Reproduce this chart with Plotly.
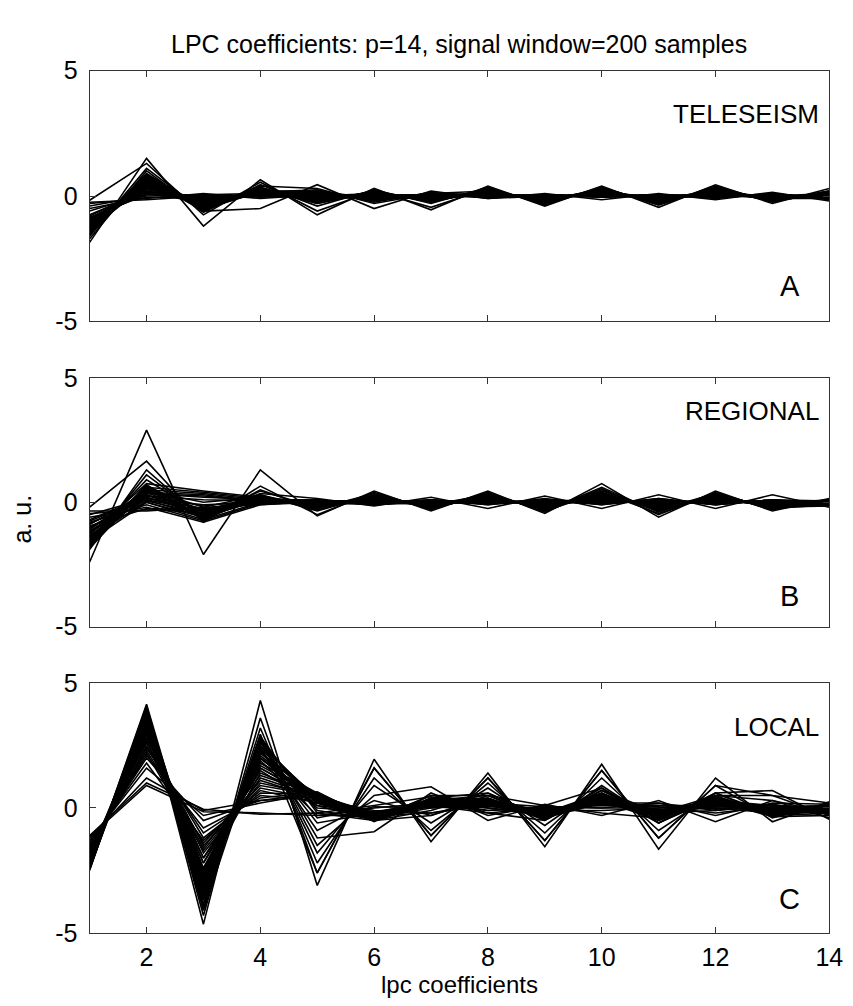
import plotly.graph_objects as go

coef = list(range(1, 15))

tele = [
    [-1.85, 1.5, -1.2, 0.65, -0.75, 0.3, -0.55, 0.4, -0.4, 0.4, -0.45, 0.45, -0.3, 0.3],
    [-0.17, 1.3, -0.75, 0.55, -0.6, 0.2, -0.45, 0.3, -0.3, 0.35, -0.35, 0.35, -0.2, 0.2],
    [-1.6, 1.1, -0.6, -0.5, 0.45, -0.5, 0.2, -0.1, 0.1, -0.15, 0.1, -0.15, 0.15, -0.2],
    [-1.5, 0.9, -0.5, 0.4, 0.3, -0.3, 0.1, 0.2, -0.2, 0.3, -0.3, 0.3, -0.15, 0.15],
    [-1.4, 0.85, -0.45, 0.3, -0.3, 0.15, -0.2, 0.25, -0.25, 0.25, -0.25, 0.25, -0.2, 0.1],
    [-1.3, 0.75, -0.4, 0.25, -0.2, 0.1, -0.15, 0.15, -0.15, 0.2, -0.2, 0.2, -0.1, 0.05],
    [-1.2, 0.7, -0.35, 0.2, -0.15, 0.05, -0.1, 0.1, -0.1, 0.15, -0.15, 0.15, -0.05, 0.0],
    [-1.1, 0.6, -0.3, 0.15, -0.1, 0.0, -0.05, 0.05, -0.05, 0.1, -0.1, 0.1, 0.0, -0.05],
    [-1.0, 0.5, -0.25, 0.1, 0.2, -0.2, 0.1, -0.05, 0.05, 0.0, 0.05, 0.0, 0.05, -0.1],
    [-0.9, 0.4, -0.2, 0.05, 0.15, -0.15, 0.05, 0.0, 0.0, 0.05, 0.0, 0.05, 0.0, 0.0],
    [-0.8, 0.3, -0.15, 0.0, 0.1, -0.1, 0.0, 0.05, -0.05, 0.1, -0.05, 0.1, -0.05, 0.05],
    [-0.75, 0.2, -0.1, 0.05, 0.0, 0.0, 0.05, 0.0, 0.05, -0.05, 0.05, -0.05, 0.05, -0.05],
    [-0.6, 0.1, 0.0, 0.0, 0.05, -0.05, 0.0, 0.0, 0.0, 0.0, 0.0, 0.0, 0.0, 0.0],
    [-0.4, 0.0, 0.05, -0.05, 0.0, 0.05, -0.05, 0.05, -0.05, 0.05, -0.05, 0.05, -0.05, 0.05],
    [-0.3, -0.1, 0.1, -0.1, 0.05, 0.0, 0.0, -0.05, 0.0, 0.0, 0.05, 0.0, 0.0, 0.1],
    [-0.25, -0.15, 0.0, 0.0, -0.05, 0.05, 0.05, 0.0, 0.05, -0.05, 0.0, -0.05, 0.05, -0.05],
    [-1.55, 0.8, -0.55, 0.35, -0.25, 0.2, -0.25, 0.3, -0.3, 0.3, -0.3, 0.3, -0.2, 0.15],
    [-1.45, 0.65, -0.5, 0.3, -0.2, 0.15, -0.15, 0.2, -0.2, 0.25, -0.2, 0.25, -0.15, 0.1],
    [-1.35, 0.55, -0.4, 0.2, -0.1, 0.1, -0.1, 0.15, -0.1, 0.2, -0.15, 0.2, -0.1, 0.05],
    [-1.25, 0.45, -0.3, 0.15, -0.05, 0.05, -0.05, 0.1, -0.05, 0.1, -0.1, 0.1, -0.05, 0.0],
    [-1.15, 0.35, -0.2, 0.1, 0.0, 0.0, 0.0, 0.05, 0.0, 0.05, -0.05, 0.05, 0.0, 0.0],
    [-1.05, 0.25, -0.1, 0.05, 0.05, -0.05, 0.05, 0.0, 0.05, 0.0, 0.0, 0.0, 0.05, -0.05],
    [-0.95, 0.15, 0.0, 0.0, 0.1, -0.1, 0.1, -0.05, 0.05, -0.05, 0.05, -0.05, 0.1, -0.1],
    [-0.85, 0.05, 0.05, 0.1, -0.05, 0.05, -0.05, 0.05, -0.05, 0.05, -0.05, 0.05, -0.05, 0.05],
    [-0.5, -0.05, -0.05, 0.0, 0.0, 0.0, 0.0, 0.0, 0.0, 0.0, 0.0, 0.0, 0.0, 0.0],
    [-1.7, 1.0, -0.65, 0.45, -0.4, 0.25, -0.3, 0.35, -0.35, 0.35, -0.35, 0.4, -0.25, 0.2],
    [-1.5, 0.75, -0.55, 0.2, -0.25, 0.2, -0.2, 0.2, -0.2, 0.25, -0.25, 0.25, -0.2, 0.2],
    [-1.4, 0.6, -0.5, 0.15, 0.25, -0.25, 0.15, -0.1, 0.0, 0.0, 0.05, -0.1, 0.1, -0.15],
    [-1.3, 0.5, -0.45, 0.3, -0.15, 0.15, -0.2, 0.15, -0.15, 0.2, -0.2, 0.2, -0.15, 0.15],
    [-1.2, 0.4, -0.4, 0.25, -0.2, 0.1, -0.15, 0.1, -0.1, 0.15, -0.15, 0.15, -0.1, 0.1],
    [-1.1, 0.3, -0.35, 0.1, 0.15, -0.2, 0.1, 0.05, -0.05, 0.05, -0.05, 0.05, 0.0, 0.05],
    [-1.0, 0.2, -0.3, 0.15, -0.1, 0.05, -0.05, 0.15, -0.1, 0.2, -0.1, 0.2, -0.1, 0.1],
    [-0.9, 0.1, -0.25, 0.05, 0.0, 0.1, -0.1, 0.1, -0.05, 0.1, -0.05, 0.15, -0.05, 0.0],
    [-1.45, 0.7, -0.6, 0.35, -0.3, 0.2, -0.25, 0.25, -0.25, 0.3, -0.25, 0.3, -0.2, 0.15],
    [-1.35, 0.45, -0.2, 0.2, 0.1, -0.15, 0.05, 0.0, 0.0, 0.05, -0.05, 0.1, -0.05, 0.0],
    [-1.25, 0.55, -0.5, 0.25, -0.1, -0.05, 0.0, 0.1, -0.15, 0.15, -0.15, 0.1, -0.1, 0.05],
    [-0.95, 0.35, -0.15, 0.1, 0.05, 0.05, -0.1, 0.05, -0.1, 0.05, -0.1, 0.05, -0.1, -0.1],
    [-1.15, 0.65, -0.45, 0.2, 0.2, -0.1, 0.05, 0.1, -0.05, 0.1, -0.15, 0.2, -0.05, 0.05],
]

regional = [
    [-2.4, 2.9, -2.1, 1.3, -0.55, 0.45, -0.35, 0.45, -0.45, 0.75, -0.6, 0.45, -0.35, 0.15],
    [-0.2, 1.65, -0.8, 0.65, -0.5, 0.4, -0.3, 0.4, -0.4, 0.55, -0.5, 0.4, -0.3, 0.1],
    [-1.9, 1.3, -0.7, 0.5, -0.3, 0.3, -0.2, 0.35, -0.35, 0.4, -0.45, 0.3, -0.2, 0.0],
    [-1.7, 1.1, -0.6, 0.45, -0.2, 0.2, -0.1, 0.3, -0.3, 0.45, -0.3, 0.35, -0.25, -0.1],
    [-1.5, 0.9, -0.5, 0.35, 0.15, -0.15, 0.2, -0.25, 0.25, -0.25, 0.3, -0.25, 0.3, -0.2],
    [-1.3, 0.75, 0.45, 0.2, 0.0, 0.1, 0.0, 0.1, -0.1, 0.2, -0.1, 0.1, 0.0, 0.05],
    [-1.8, 0.6, 0.4, 0.15, -0.1, 0.2, -0.1, 0.2, -0.2, 0.3, -0.2, 0.2, -0.1, 0.0],
    [-1.1, 0.5, 0.35, 0.1, 0.05, 0.05, 0.05, 0.0, 0.05, 0.1, 0.0, 0.05, 0.05, -0.05],
    [-0.9, 0.4, 0.3, 0.05, -0.05, 0.15, -0.05, 0.15, -0.15, 0.25, -0.15, 0.15, -0.15, 0.05],
    [-1.6, 0.3, -0.3, 0.2, -0.15, 0.1, -0.15, 0.25, -0.25, 0.35, -0.25, 0.25, -0.2, -0.05],
    [-1.4, 0.2, -0.5, 0.15, -0.1, 0.0, -0.05, 0.1, -0.1, 0.15, -0.1, 0.1, -0.1, 0.0],
    [-1.2, 0.1, -0.6, 0.1, 0.0, 0.05, 0.0, 0.05, 0.0, 0.05, 0.05, 0.0, 0.0, 0.0],
    [-1.0, 0.0, -0.7, 0.0, -0.05, -0.05, 0.1, -0.1, 0.1, -0.1, 0.15, -0.1, 0.1, 0.05],
    [-0.8, -0.1, -0.75, -0.05, 0.1, -0.1, 0.05, -0.05, 0.05, 0.0, 0.1, -0.05, 0.05, -0.1],
    [-0.6, -0.2, -0.8, -0.1, 0.05, 0.0, -0.1, 0.05, -0.05, 0.1, -0.05, 0.05, -0.05, 0.1],
    [-0.45, -0.3, -0.4, 0.0, -0.05, 0.05, 0.05, 0.0, 0.0, 0.0, 0.0, 0.0, 0.0, -0.05],
    [-0.35, -0.35, -0.2, -0.1, 0.0, -0.1, 0.0, -0.05, 0.0, -0.05, 0.05, -0.05, 0.05, 0.0],
    [-1.75, 0.65, -0.4, 0.25, -0.2, 0.25, -0.2, 0.3, -0.3, 0.5, -0.35, 0.3, -0.25, 0.0],
    [-1.55, 0.55, -0.2, 0.3, -0.25, 0.35, -0.25, 0.35, -0.35, 0.6, -0.4, 0.35, -0.3, 0.1],
    [-1.25, 0.45, 0.0, 0.2, -0.1, 0.15, -0.1, 0.15, -0.15, 0.2, -0.2, 0.15, -0.1, -0.05],
    [-1.05, 0.35, 0.2, 0.1, 0.0, 0.1, 0.0, 0.1, -0.05, 0.1, -0.05, 0.1, 0.0, 0.0],
    [-0.7, 0.25, 0.1, 0.05, 0.05, -0.05, 0.1, -0.05, 0.1, -0.05, 0.1, -0.1, 0.1, -0.05],
    [-0.5, 0.15, -0.1, 0.0, 0.0, 0.0, 0.0, 0.0, 0.05, 0.0, 0.0, 0.05, -0.05, 0.05],
    [-1.65, 0.7, -0.65, 0.3, -0.35, 0.3, -0.25, 0.3, -0.3, 0.4, -0.35, 0.3, -0.2, -0.15],
    [-1.45, 0.05, -0.45, 0.05, -0.1, 0.05, -0.1, 0.05, -0.1, 0.1, -0.1, 0.1, -0.1, 0.0],
    [-0.95, -0.25, -0.3, -0.05, 0.0, 0.0, 0.0, 0.0, 0.0, 0.05, -0.05, 0.0, 0.0, 0.0],
    [-1.5, 0.5, -0.6, 0.2, -0.2, 0.2, -0.15, 0.2, -0.2, 0.3, -0.25, 0.2, -0.2, 0.05],
    [-1.35, 0.4, -0.5, 0.15, -0.15, 0.15, -0.1, 0.15, -0.15, 0.2, -0.2, 0.15, -0.15, 0.0],
    [-1.2, 0.3, -0.55, 0.1, 0.1, -0.1, 0.1, -0.1, 0.15, -0.1, 0.15, -0.1, 0.1, -0.1],
    [-1.0, 0.2, -0.45, 0.05, -0.1, 0.1, -0.1, 0.1, -0.1, 0.15, -0.15, 0.15, -0.1, 0.05],
    [-0.85, 0.1, -0.35, 0.0, 0.05, 0.0, 0.05, 0.05, -0.05, 0.05, -0.05, 0.05, 0.0, -0.05],
    [-1.7, 0.55, -0.7, 0.25, -0.3, 0.25, -0.2, 0.25, -0.25, 0.35, -0.3, 0.25, -0.2, 0.1],
    [-1.6, 0.45, -0.3, 0.1, 0.05, 0.05, -0.05, 0.1, -0.1, 0.1, -0.1, 0.05, -0.05, 0.0],
    [-1.4, 0.35, 0.25, 0.05, -0.05, 0.1, -0.05, 0.05, 0.0, 0.1, -0.05, 0.1, -0.05, 0.05],
    [-1.15, 0.25, -0.15, 0.1, -0.1, 0.05, 0.0, 0.0, 0.05, 0.0, 0.05, 0.0, 0.05, -0.05],
    [-0.75, 0.15, -0.25, 0.0, 0.0, -0.05, 0.05, -0.05, 0.05, -0.05, 0.1, -0.05, 0.05, 0.0],
    [-1.85, 0.6, -0.55, 0.2, -0.15, 0.2, -0.2, 0.2, -0.2, 0.25, -0.25, 0.2, -0.15, -0.1],
    [-1.55, 0.0, -0.6, 0.1, -0.05, 0.1, -0.1, 0.1, -0.05, 0.1, -0.1, 0.1, -0.1, 0.05],
]

local = [
    [-2.5, 4.1, -4.65, 4.3, -3.1, 1.95, -1.35, 1.4, -1.55, 1.75, -1.65, 1.2, -0.55, 0.25],
    [-2.4, 4.0, -4.3, 3.6, -2.6, 1.6, -1.1, 1.2, -1.3, 1.5, -1.2, 0.9, -0.4, 0.2],
    [-2.3, 3.9, -4.0, 3.2, -2.2, 1.2, -0.9, 1.0, -1.0, 1.2, -0.9, 0.6, 0.7, -0.45],
    [-2.2, 3.8, -3.85, 2.9, -1.8, 0.9, -0.6, 0.8, -0.7, 0.9, -0.6, 0.5, 0.5, -0.3],
    [-2.35, 4.15, -3.6, 2.8, -1.5, 0.5, 0.85, -0.5, 0.15, -0.3, 0.3, -0.55, 0.3, -0.4],
    [-2.1, 3.7, -3.5, 2.7, -1.2, -0.95, 0.6, -0.3, 0.1, 0.8, -0.5, 0.3, -0.35, 0.1],
    [-2.45, 3.95, -3.3, 2.6, 0.2, -0.5, 0.4, 0.6, -0.4, 0.6, -0.3, 0.4, -0.2, 0.0],
    [-2.0, 3.6, -3.1, 2.5, 0.4, -0.4, 0.3, 0.5, -0.3, 0.5, -0.4, 0.2, -0.1, -0.2],
    [-2.25, 3.85, -3.0, 2.4, -0.9, 0.3, -0.3, 0.4, -0.5, 0.7, -0.2, 0.5, -0.3, 0.1],
    [-1.9, 3.5, -2.8, 2.2, 0.5, -0.3, 0.2, 0.3, -0.2, 0.4, -0.1, 0.3, 0.1, -0.1],
    [-2.15, 3.4, -2.6, 2.0, 0.3, -0.45, 0.5, 0.2, -0.1, 0.3, -0.5, 0.6, -0.25, -0.3],
    [-1.95, 3.3, -2.4, 1.8, 0.6, -0.5, -0.1, 0.6, -0.4, 0.2, 0.2, -0.3, 0.2, 0.15],
    [-2.05, 3.2, -2.2, 1.5, 0.1, -0.2, 0.1, 0.1, -0.3, 0.5, -0.3, 0.1, -0.1, -0.1],
    [-1.8, 3.1, -2.0, 1.2, 0.45, -0.35, 0.3, -0.1, 0.0, 0.1, 0.1, 0.0, 0.0, 0.1],
    [-1.85, 3.0, -1.8, 1.0, 0.5, -0.55, 0.4, 0.3, -0.2, 0.6, -0.6, 0.4, -0.3, -0.2],
    [-1.75, 2.8, -1.5, 0.8, 0.35, -0.1, -0.2, 0.2, 0.05, 0.0, 0.0, 0.2, 0.1, 0.0],
    [-1.7, 2.6, -1.2, 0.6, 0.55, -0.4, 0.0, 0.1, -0.1, 0.3, -0.2, -0.1, 0.15, -0.15],
    [-1.6, 2.4, -1.0, 0.5, 0.3, -0.25, 0.2, 0.0, -0.2, 0.2, 0.1, 0.1, -0.15, 0.05],
    [-1.5, 2.1, -0.8, 0.4, 0.65, -0.5, -0.3, 0.5, 0.1, -0.2, -0.4, 0.3, 0.0, -0.05],
    [-1.45, 2.0, -0.5, 0.3, 0.45, -0.3, 0.1, -0.2, 0.0, 0.1, 0.05, -0.2, 0.05, 0.1],
    [-1.3, 1.6, -0.3, 0.2, 0.6, -0.45, 0.2, 0.1, -0.3, 0.2, -0.1, 0.0, -0.2, -0.1],
    [-1.2, 1.2, -0.1, 0.3, 0.6, -0.4, 0.3, 0.2, -0.2, 0.4, -0.3, 0.2, -0.1, 0.0],
    [-1.1, 1.0, -0.05, -0.25, -0.2, -0.5, 0.1, -0.1, 0.05, 0.0, 0.2, -0.1, 0.1, -0.25],
    [-1.15, 0.9, -0.15, -0.2, -0.3, -0.3, -0.2, 0.1, -0.1, -0.1, 0.0, 0.1, 0.0, 0.05],
    [-2.2, 3.75, -3.7, 2.85, -0.2, 0.1, 0.45, -0.2, -0.5, 0.8, -0.6, 0.6, -0.35, -0.3],
    [-2.3, 4.05, -3.9, 2.95, -2.6, 1.6, -1.1, 1.2, -1.3, 1.5, -1.2, 0.9, 0.5, 0.2],
    [-2.4, 3.6, -3.4, 2.3, -0.6, -0.2, 0.3, 0.3, -0.4, 0.6, -0.4, 0.3, -0.3, -0.1],
    [-2.0, 3.45, -2.9, 2.1, 0.2, -0.4, 0.35, 0.4, -0.35, 0.45, -0.35, 0.45, -0.2, 0.0],
    [-2.1, 3.25, -3.2, 1.9, -0.3, 0.0, 0.2, 0.2, -0.15, 0.3, -0.25, 0.2, -0.1, -0.2],
    [-1.9, 2.95, -2.5, 1.6, 0.3, -0.3, 0.1, 0.3, -0.25, 0.35, -0.15, 0.25, -0.25, 0.1],
    [-2.45, 3.9, -4.1, 2.75, -0.1, -0.45, 0.5, 0.5, -0.45, 0.7, -0.45, 0.5, 0.3, -0.2],
    [-1.65, 2.7, -2.7, 1.4, 0.5, -0.2, 0.25, 0.0, -0.3, 0.25, -0.2, 0.15, -0.05, -0.05],
    [-1.55, 2.2, -1.7, 1.1, 0.4, -0.35, 0.15, 0.15, -0.1, 0.2, 0.1, -0.05, 0.1, -0.1],
    [-1.35, 1.8, -1.3, 0.7, 0.2, -0.15, 0.05, 0.05, 0.0, 0.15, -0.05, 0.05, 0.0, 0.05],
    [-2.3, 3.7, -3.2, 2.6, 0.3, -0.3, 0.2, 0.3, -0.3, 0.4, -0.3, 0.3, -0.2, 0.0],
    [-2.2, 3.5, -3.0, 2.4, 0.2, -0.4, 0.3, 0.2, -0.2, 0.3, -0.2, 0.2, -0.15, 0.05],
    [-2.1, 3.3, -2.7, 2.2, 0.4, -0.2, 0.1, 0.25, -0.25, 0.35, -0.25, 0.25, -0.1, -0.1],
    [-2.0, 3.1, -2.5, 2.0, 0.1, -0.5, 0.25, 0.15, -0.35, 0.25, -0.35, 0.35, -0.25, 0.1],
    [-1.9, 2.9, -2.2, 1.8, 0.5, -0.35, 0.35, 0.35, -0.15, 0.45, -0.15, 0.15, -0.05, -0.05],
    [-1.8, 2.7, -2.0, 1.6, 0.35, -0.25, 0.15, 0.1, -0.1, 0.2, -0.1, 0.1, 0.0, 0.0],
    [-2.35, 3.8, -3.5, 2.5, -0.4, 0.05, 0.0, 0.35, -0.45, 0.55, -0.35, 0.4, -0.2, -0.15],
    [-2.25, 3.6, -3.3, 2.3, 0.0, -0.15, 0.2, 0.2, -0.2, 0.3, -0.3, 0.3, -0.15, 0.05],
    [-2.05, 3.4, -2.9, 2.0, 0.25, -0.35, 0.25, 0.3, -0.3, 0.35, -0.2, 0.2, -0.2, -0.05],
    [-1.95, 3.2, -2.6, 1.7, 0.45, -0.45, 0.3, 0.2, -0.25, 0.3, -0.25, 0.25, -0.1, 0.0],
    [-1.85, 2.5, -1.6, 1.3, 0.55, -0.3, 0.05, 0.1, -0.05, 0.15, -0.15, 0.1, -0.05, -0.1],
    [-1.6, 2.3, -1.4, 0.9, 0.5, -0.4, 0.2, 0.15, -0.15, 0.25, -0.1, 0.15, -0.1, 0.05],
]

panel_labels = ["TELESEISM", "REGIONAL", "LOCAL"]
panel_letters = ["A", "B", "C"]
x_ticks = [2, 4, 6, 8, 10, 12, 14]
y_ticks = [-5, 0, 5]
y_tick_text = ["-5", "0", "5"]

W, H = 853, 1006
FONT = "Liberation Sans, Arial, sans-serif"
x0, x1 = 83 / W, 835 / W
tops = [50, 366, 680]
bottoms = [308, 622, 937]

fig = go.Figure()
for i, group in enumerate([tele, regional, local]):
    ax = "" if i == 0 else str(i + 1)
    for series in group:
        fig.add_trace(go.Scatter(
            x=coef, y=series, mode="lines",
            line=dict(color="black", width=1.6),
            xaxis="x" + ax, yaxis="y" + ax,
            showlegend=False, hoverinfo="skip"))

axis_common = dict(showline=True, linecolor="#333", linewidth=1.2, mirror="ticks",
                   ticks="inside", ticklen=6, tickcolor="#333", tickwidth=1,
                   showgrid=False, zeroline=False,
                   tickfont=dict(family=FONT, size=25, color="black"))
layout = dict(width=W, height=H, margin=dict(l=0, r=0, t=0, b=0),
              paper_bgcolor="white", plot_bgcolor="white", showlegend=False)
for i in range(3):
    ax = "" if i == 0 else str(i + 1)
    yd = [1 - bottoms[i] / H, 1 - tops[i] / H]
    layout["xaxis" + ax] = dict(axis_common, domain=[x0, x1], range=[1, 14],
                                tickvals=x_ticks, showticklabels=(i == 2),
                                anchor="y" + ax, ticklabelstandoff=2)
    layout["yaxis" + ax] = dict(axis_common, domain=yd, range=[-5, 5],
                                tickvals=y_ticks, ticktext=y_tick_text,
                                anchor="x" + ax, ticklabelstandoff=6)
fig.update_layout(**layout)

ann = []
ann.append(dict(text="LPC coefficients: p=14, signal window=200 samples",
                x=459 / W, y=1 - 23 / H, xref="paper", yref="paper",
                showarrow=False, font=dict(family=FONT, size=25, color="black"),
                xanchor="center", yanchor="middle"))
label_y = [95, 400, 725]
letter_y = [272, 590, 902]
for i in range(3):
    ann.append(dict(text=panel_labels[i], x=827 / W, y=1 - label_y[i] / H,
                    xref="paper", yref="paper", showarrow=False,
                    font=dict(family=FONT, size=26, color="black"),
                    xanchor="right", yanchor="middle"))
    ann.append(dict(text=panel_letters[i], x=795 / W, y=1 - letter_y[i] / H,
                    xref="paper", yref="paper", showarrow=False,
                    font=dict(family=FONT, size=29, color="black"),
                    xanchor="center", yanchor="middle"))
ann.append(dict(text="lpc coefficients", x=459 / W, y=1 - 990 / H,
                xref="paper", yref="paper", showarrow=False,
                font=dict(family=FONT, size=24, color="black"),
                xanchor="center", yanchor="middle"))
ann.append(dict(text="a. u.", x=14 / W, y=1 - 511 / H, textangle=-90,
                xref="paper", yref="paper", showarrow=False,
                font=dict(family=FONT, size=25, color="black"),
                xanchor="center", yanchor="middle"))
fig.update_layout(annotations=ann)

fig.write_html("out.html")
